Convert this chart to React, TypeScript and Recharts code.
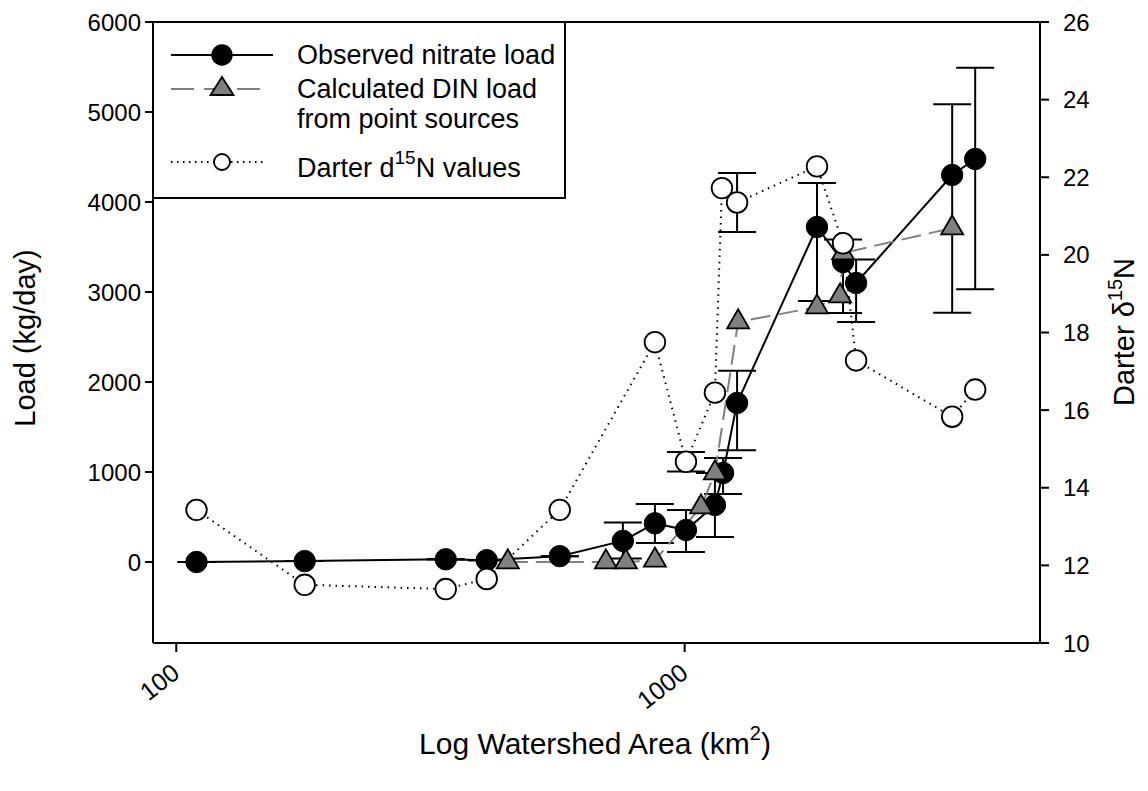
import React from 'react';
import { ComposedChart, Line, XAxis, YAxis, ErrorBar, ReferenceLine, Label } from 'recharts';

// watershed area (km2) and loads
const areaObserved = [109.6, 178.9, 338.9, 408, 568, 755.9, 874, 1006, 1147, 1190, 1268, 1821, 2049, 2174, 3359, 3728];
const nitrateLoad = [0, 10, 30, 20, 65, 235, 430, 355, 633, 989, 1767, 3722, 3333, 3100, 4300, 4478];
const nitrateErrLow = [0, 0, 0, 0, 0, 195, 220, 244, 355, 233, 526, 822, 566, 433, 1530, 1448];
const nitrateErrHigh = [0, 0, 0, 0, 0, 205, 215, 223, 355, 167, 359, 489, 250, 260, 786, 1014];

const areaDin = [448.9, 700, 766.3, 874, 1077, 1147, 1274, 1821, 2022, 2049, 3359];
const dinLoad = [0, 0, 0, 20, 611, 989, 2667, 2833, 2956, 3433, 3711];

const areaDarter = [109.6, 178.9, 338.9, 408, 568, 874, 1006, 1147, 1184, 1268, 1821, 2049, 2174, 3359, 3728];
const darterN15 = [13.43, 11.5, 11.39, 11.65, 13.43, 17.75, 14.67, 16.45, 21.72, 21.35, 22.28, 20.3, 17.28, 15.83, 16.53];
const darterErr = [0, 0, 0, 0, 0, 0, 0.25, 0, 0, 0.76, 0, 0, 0, 0, 0];

const xTicks = [100, 1000];
const loadTicks = [0, 1000, 2000, 3000, 4000, 5000, 6000];
const n15Ticks = [10, 12, 14, 16, 18, 20, 22, 24, 26];

const observedData = areaObserved.map((x, i) => ({ x, y: nitrateLoad[i], err: [nitrateErrLow[i], nitrateErrHigh[i]] }));
const dinData = areaDin.map((x, i) => ({ x, y: dinLoad[i] }));
const darterData = areaDarter.map((x, i) => ({ x, y: darterN15[i], err: darterErr[i] }));

const FONT = '"Liberation Sans", Arial, Helvetica, sans-serif';

const XTick = ({ x, y, payload }: any) => (
  <g transform={`translate(${x + 5},${y + 22})`}>
    <text textAnchor="end" transform="rotate(-38)" fontSize={25} fill="#000" fontFamily={FONT}>
      {payload.value}
    </text>
  </g>
);

const filledDot = (props: any) => {
  const { cx, cy, index } = props;
  return <circle key={`f-${index}`} cx={cx} cy={cy} r={10.7} fill="#000" stroke="#000" strokeWidth={1} />;
};

const triangleDot = (props: any) => {
  const { cx, cy, index } = props;
  const h = 19;
  const w = 22;
  const d = `M${cx},${cy - (2 * h) / 3} L${cx + w / 2},${cy + h / 3} L${cx - w / 2},${cy + h / 3} Z`;
  return <path key={`t-${index}`} d={d} fill="#808080" stroke="#000" strokeWidth={1.8} />;
};

const openDot = (props: any) => {
  const { cx, cy, index } = props;
  return <circle key={`o-${index}`} cx={cx} cy={cy} r={10.3} fill="#fff" stroke="#000" strokeWidth={1.8} />;
};

export default function App() {
  return (
    <div style={{ position: 'relative', width: 1140, height: 770, overflow: 'hidden', fontFamily: FONT }}>
      <ComposedChart width={1140} height={770} margin={{ top: 14, right: 0, bottom: 0, left: 0 }}>
        <XAxis
          dataKey="x"
          type="number"
          scale="log"
          domain={[90, 5000]}
          allowDataOverflow
          ticks={xTicks}
          height={135}
          tickSize={9}
          tick={<XTick />}
          axisLine={{ stroke: '#000', strokeWidth: 2 }}
          tickLine={{ stroke: '#000', strokeWidth: 2 }}
        >
          <Label
            content={() => (
              <text x={587} y={746} textAnchor="middle" fontSize={30} fill="#000" fontFamily={FONT}>
                Log Watershed Area (km
                <tspan fontSize={20} dy={-14}>2</tspan>
                <tspan dy={14}>)</tspan>
              </text>
            )}
          />
        </XAxis>
        <YAxis
          yAxisId="left"
          type="number"
          domain={[-900, 6000]}
          allowDataOverflow
          ticks={loadTicks}
          width={145}
          tickSize={8}
          tickMargin={4}
          tick={{ fontSize: 24, fill: '#000', fontFamily: FONT }}
          axisLine={{ stroke: '#000', strokeWidth: 2 }}
          tickLine={{ stroke: '#000', strokeWidth: 2 }}
        >
          <Label
            content={() => (
              <text
                x={27}
                y={330}
                transform="rotate(-90, 27, 330)"
                textAnchor="middle"
                fontSize={29}
                fill="#000"
                fontFamily={FONT}
              >
                Load (kg/day)
              </text>
            )}
          />
        </YAxis>
        <YAxis
          yAxisId="right"
          orientation="right"
          type="number"
          domain={[10, 26]}
          allowDataOverflow
          ticks={n15Ticks}
          width={108}
          tickSize={9}
          tickMargin={14}
          tick={{ fontSize: 24, fill: '#000', fontFamily: FONT }}
          axisLine={{ stroke: '#000', strokeWidth: 2 }}
          tickLine={{ stroke: '#000', strokeWidth: 2 }}
        >
          <Label
            content={() => (
              <text
                x={1126}
                y={324}
                transform="rotate(-90, 1126, 324)"
                textAnchor="middle"
                fontSize={29}
                fill="#000"
                fontFamily={FONT}
              >
                Darter δ
                <tspan fontSize={20} dy={-12}>15</tspan>
                <tspan dy={12}>N</tspan>
              </text>
            )}
          />
        </YAxis>
        <ReferenceLine yAxisId="left" y={6000} stroke="#000" strokeWidth={2} />

        <Line
          yAxisId="left"
          data={observedData}
          dataKey="y"
          stroke="#000"
          strokeWidth={2}
          dot={filledDot}
          activeDot={false}
          isAnimationActive={false}
        >
          <ErrorBar dataKey="err" direction="y" width={19} stroke="#000" strokeWidth={2} />
        </Line>
        <Line
          yAxisId="left"
          data={dinData}
          dataKey="y"
          stroke="#808080"
          strokeWidth={2}
          strokeDasharray="20 8"
          dot={triangleDot}
          activeDot={false}
          isAnimationActive={false}
        />
        <Line
          yAxisId="right"
          data={darterData}
          dataKey="y"
          stroke="#000"
          strokeWidth={2}
          strokeDasharray="1.5 5"
          dot={openDot}
          activeDot={false}
          isAnimationActive={false}
        >
          <ErrorBar dataKey="err" direction="y" width={19} stroke="#000" strokeWidth={2} />
        </Line>
      </ComposedChart>

      <div
        style={{
          position: 'absolute',
          left: 144,
          top: 13,
          width: 414,
          height: 178,
          background: '#fff',
          border: '2px solid #000',
          boxSizing: 'border-box',
        }}
      >
        <svg width={410} height={174} style={{ display: 'block' }}>
          <line x1={17} y1={32} x2={119} y2={32} stroke="#000" strokeWidth={2} />
          <circle cx={68} cy={32} r={10.7} fill="#000" />
          <text x={143} y={41} fontSize={27} fill="#000" fontFamily={FONT}>Observed nitrate load</text>

          <line x1={17} y1={66} x2={112} y2={66} stroke="#808080" strokeWidth={2} strokeDasharray="23 10" />
          <path d="M68,54 L79.5,72 L56.5,72 Z" fill="#808080" stroke="#000" strokeWidth={1.8} />
          <text x={143} y={75} fontSize={27} fill="#000" fontFamily={FONT}>Calculated DIN load</text>
          <text x={143} y={105} fontSize={27} fill="#000" fontFamily={FONT}>from point sources</text>

          <line x1={17} y1={139} x2={112} y2={139} stroke="#000" strokeWidth={2} strokeDasharray="1.5 4.5" />
          <circle cx={68} cy={139} r={8} fill="#fff" stroke="#000" strokeWidth={1.8} />
          <text x={143} y={154} fontSize={27} fill="#000" fontFamily={FONT}>
            Darter d
            <tspan fontSize={19} dy={-13}>15</tspan>
            <tspan dy={13}>N values</tspan>
          </text>
        </svg>
      </div>
    </div>
  );
}
